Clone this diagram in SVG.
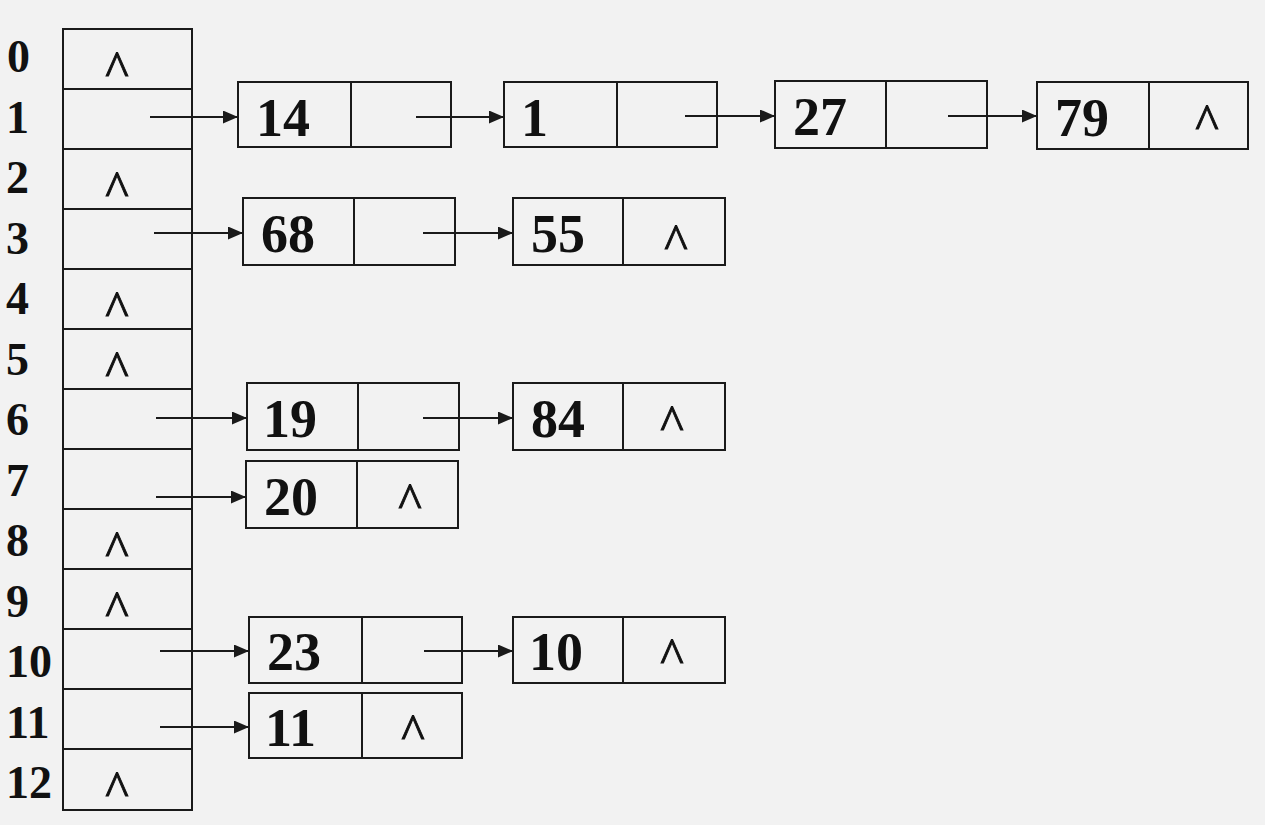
<svg xmlns="http://www.w3.org/2000/svg" width="1265" height="825" viewBox="0 0 1265 825">
<style>
.bg{fill:#f2f2f2}
.box{fill:none;stroke:#1a1a1a;stroke-width:2}
.idx{font-family:"Liberation Serif","Times New Roman",serif;font-weight:bold;font-size:46px;fill:#111}
.val{font-family:"Liberation Serif","Times New Roman",serif;font-weight:bold;font-size:54px;fill:#111}
.nil{font-family:"Liberation Serif","Times New Roman",serif;font-size:50px;fill:#111;stroke:#111;stroke-width:0.9;text-anchor:middle}
.lnk{stroke:#1a1a1a;stroke-width:2;fill:none;marker-end:url(#ah)}
</style>
<defs>
<marker id="ah" markerUnits="userSpaceOnUse" markerWidth="16" markerHeight="14" refX="15" refY="6.5" orient="auto">
<path d="M0,0 L15,6.5 L0,13 z" fill="#1a1a1a"/>
</marker>
</defs>
<rect class="bg" x="0" y="0" width="1265" height="825"/>

<g id="labels">
<text class="idx" x="7" y="72">0</text>
<text class="idx" x="6" y="132.5">1</text>
<text class="idx" x="6" y="193">2</text>
<text class="idx" x="6" y="253.5">3</text>
<text class="idx" x="6" y="314">4</text>
<text class="idx" x="6" y="374.5">5</text>
<text class="idx" x="6" y="435">6</text>
<text class="idx" x="6" y="495.5">7</text>
<text class="idx" x="6" y="556">8</text>
<text class="idx" x="6" y="616.5">9</text>
<text class="idx" x="6" y="677">10</text>
<text class="idx" x="6" y="737.5">11</text>
<text class="idx" x="6" y="798">12</text>
</g>

<g id="table">
<rect class="box" x="63" y="29" width="129" height="781"/>
<path class="box" d="M63,89H192M63,149H192M63,209H192M63,269H192M63,329H192M63,389H192M63,449H192M63,509H192M63,569H192M63,629H192M63,689H192M63,749H192"/>
<text class="nil" x="117" y="86">^</text>
<text class="nil" x="117" y="206">^</text>
<text class="nil" x="117" y="326">^</text>
<text class="nil" x="117" y="386">^</text>
<text class="nil" x="117" y="566">^</text>
<text class="nil" x="117" y="626">^</text>
<text class="nil" x="117" y="806">^</text>
</g>

<g id="n14">
<rect class="box" x="238" y="82" width="213" height="65"/>
<path class="box" d="M351,82V147"/>
<text class="val" x="256" y="136">14</text>
</g>
<g id="n1">
<rect class="box" x="504" y="82" width="213" height="65"/>
<path class="box" d="M617,82V147"/>
<text class="val" x="521" y="136">1</text>
</g>
<g id="n27">
<rect class="box" x="775" y="81" width="212" height="67"/>
<path class="box" d="M886,81V148"/>
<text class="val" x="793" y="135">27</text>
</g>
<g id="n79">
<rect class="box" x="1037" y="82" width="211" height="67"/>
<path class="box" d="M1149,82V149"/>
<text class="val" x="1055" y="136">79</text>
<text class="nil" x="1207" y="139">^</text>
</g>

<g id="n68">
<rect class="box" x="243" y="198" width="212" height="67"/>
<path class="box" d="M354,198V265"/>
<text class="val" x="261" y="252">68</text>
</g>
<g id="n55">
<rect class="box" x="513" y="198" width="212" height="67"/>
<path class="box" d="M623,198V265"/>
<text class="val" x="531" y="252">55</text>
<text class="nil" x="676" y="259">^</text>
</g>

<g id="n19">
<rect class="box" x="247" y="383" width="212" height="67"/>
<path class="box" d="M358,383V450"/>
<text class="val" x="263" y="437">19</text>
</g>
<g id="n84">
<rect class="box" x="513" y="383" width="212" height="67"/>
<path class="box" d="M623,383V450"/>
<text class="val" x="531" y="437">84</text>
<text class="nil" x="672" y="440">^</text>
</g>

<g id="n20">
<rect class="box" x="246" y="461" width="212" height="67"/>
<path class="box" d="M357,461V528"/>
<text class="val" x="264" y="515">20</text>
<text class="nil" x="410" y="518">^</text>
</g>

<g id="n23">
<rect class="box" x="249" y="617" width="213" height="66"/>
<path class="box" d="M362,617V683"/>
<text class="val" x="267" y="670">23</text>
</g>
<g id="n10">
<rect class="box" x="513" y="617" width="212" height="66"/>
<path class="box" d="M623,617V683"/>
<text class="val" x="529" y="670">10</text>
<text class="nil" x="672" y="673">^</text>
</g>

<g id="n11">
<rect class="box" x="249" y="693" width="213" height="65"/>
<path class="box" d="M362,693V758"/>
<text class="val" x="265" y="746">11</text>
<text class="nil" x="413" y="749">^</text>
</g>

<g id="connectors">
<line class="lnk" x1="150" y1="117" x2="238" y2="117"/>
<line class="lnk" x1="416" y1="117" x2="504" y2="117"/>
<line class="lnk" x1="685" y1="116" x2="775" y2="116"/>
<line class="lnk" x1="948" y1="116" x2="1037" y2="116"/>
<line class="lnk" x1="154" y1="233" x2="243" y2="233"/>
<line class="lnk" x1="423" y1="233" x2="513" y2="233"/>
<line class="lnk" x1="156" y1="418" x2="247" y2="418"/>
<line class="lnk" x1="423" y1="418" x2="513" y2="418"/>
<line class="lnk" x1="156" y1="497" x2="246" y2="497"/>
<line class="lnk" x1="160" y1="651" x2="249" y2="651"/>
<line class="lnk" x1="424" y1="651" x2="513" y2="651"/>
<line class="lnk" x1="160" y1="727" x2="249" y2="727"/>
</g>
</svg>
